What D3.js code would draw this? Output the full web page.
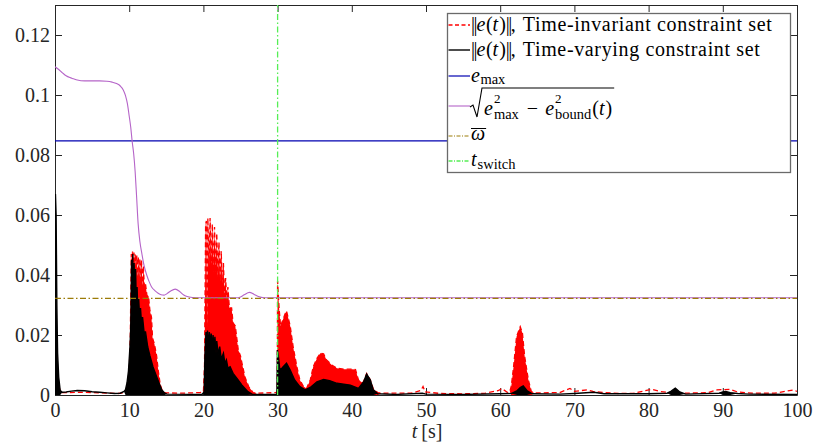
<!DOCTYPE html>
<html>
<head>
<meta charset="utf-8">
<script src="https://cdn.jsdelivr.net/npm/d3@7"></script>
<style>
  body { margin: 0; background: #fff; }
  svg { display: block; }
  svg text { font-family: 'Liberation Serif', 'Times New Roman', 'Nimbus Roman', 'DejaVu Serif', serif; }
</style>
</head>
<body>
<svg id="chart" width="814" height="445"></svg>
<script>
// ---- data -------------------------------------------------------------
const xTicks = [0, 10, 20, 30, 40, 50, 60, 70, 80, 90, 100];
const xTickLabels = ["0", "10", "20", "30", "40", "50", "60", "70", "80", "90", "100"];
const yTicks = [0, 0.02, 0.04, 0.06, 0.08, 0.1, 0.12];
const yTickLabels = ["0", "0.02", "0.04", "0.06", "0.08", "0.1", "0.12"];

// ||e(t)|| envelopes: [t, lower, upper] (lower === upper where the signal is not oscillating)
const timeInvariant = [
  [0, 0, 0.027], [0.15, 0, 0.021], [0.3, 0, 0.009], [0.5, 0, 0.003], [0.8, 0.0008, 0.0008],
  [2, 0.0008, 0.0008], [3.5, 0.0009, 0.0009], [6, 0.0007, 0.0007], [8.5, 0.0005, 0.0005], [9.6, 0.0008, 0.0008],
  [9.95, 0, 0.003], [10.15, 0, 0.02], [10.28, 0, 0.047], [10.36, 0, 0.038], [10.45, 0, 0.0478],
  [10.55, 0, 0.04], [10.64, 0, 0.0475], [10.73, 0, 0.04], [10.82, 0, 0.047], [10.92, 0, 0.039],
  [11.02, 0, 0.0465], [11.12, 0, 0.039], [11.22, 0, 0.046], [11.33, 0, 0.038], [11.44, 0, 0.0455],
  [11.55, 0, 0.037], [11.66, 0, 0.045], [11.78, 0, 0.036], [11.9, 0, 0.043], [12.05, 0, 0.036],
  [12.2, 0, 0.037], [12.4, 0, 0.033], [12.6, 0, 0.033], [12.8, 0, 0.028], [13.0, 0, 0.026],
  [13.15, 0, 0.019], [13.4, 0, 0.017], [13.7, 0, 0.013], [13.9, 0, 0.0085], [14.15, 0, 0.004],
  [14.4, 0, 0.0018], [14.7, 0, 0.0008], [15.0, 0.0007, 0.0007], [17, 0.0006, 0.0006], [19.5, 0.0008, 0.0008],
  [20.0, 0.001, 0.001], [20.15, 0, 0.01], [20.3, 0, 0.057], [20.4, 0, 0.058], [20.5, 0, 0.022],
  [20.6, 0, 0.059], [20.75, 0, 0.042], [20.9, 0, 0.059], [21.05, 0, 0.043], [21.2, 0, 0.057],
  [21.35, 0, 0.041], [21.5, 0, 0.056], [21.65, 0, 0.041], [21.8, 0, 0.054], [21.95, 0, 0.039],
  [22.1, 0, 0.051], [22.25, 0, 0.038], [22.4, 0, 0.048], [22.55, 0, 0.036], [22.7, 0, 0.044],
  [22.85, 0, 0.033], [23.0, 0, 0.039], [23.15, 0, 0.031], [23.3, 0, 0.036], [23.5, 0, 0.029],
  [23.8, 0, 0.029], [24.0, 0, 0.024], [24.3, 0, 0.023], [24.7, 0, 0.015], [25.0, 0, 0.013],
  [25.2, 0, 0.0106], [25.6, 0, 0.006], [26.1, 0, 0.0028], [26.7, 0, 0.0008], [27.2, 0.0006, 0.0006],
  [29.7, 0.0008, 0.0008], [29.95, 0, 0.001], [30.0, 0, 0.038], [30.2, 0, 0.029], [30.4, 0, 0.023],
  [30.7, 0, 0.025], [31.0, 0, 0.027], [31.2, 0, 0.028], [31.7, 0, 0.023], [32.1, 0, 0.016],
  [32.6, 0, 0.0094], [33.0, 0, 0.005], [33.5, 0, 0.0028], [33.9, 0, 0.0022], [34.4, 0, 0.005],
  [34.8, 0, 0.0094], [35.3, 0, 0.0122], [35.8, 0, 0.014], [36.2, 0, 0.0137], [36.6, 0, 0.0117],
  [37.3, 0, 0.010], [38, 0, 0.0089], [39, 0, 0.0086], [40, 0, 0.0086], [40.5, 0, 0.0085],
  [40.9, 0, 0.005], [41.5, 0, 0.004], [42.0, 0, 0.0072], [42.5, 0, 0.005], [42.9, 0, 0.002],
  [43.5, 0, 0.0008], [44, 0.0006, 0.0006], [48, 0.0006, 0.0006], [49.3, 0.0015, 0.0015], [49.6, 0.0028, 0.0028],
  [49.9, 0.001, 0.001], [52, 0.0005, 0.0005], [55, 0.0004, 0.0004], [58, 0.0006, 0.0006], [59.8, 0.0015, 0.0015],
  [60.2, 0.0022, 0.0022], [61, 0.0008, 0.0008], [61.3, 0.0012, 0.0012], [61.5, 0, 0.003], [61.8, 0, 0.0094],
  [62.2, 0, 0.0194], [62.7, 0, 0.0228], [63.0, 0, 0.0206], [63.3, 0, 0.0128], [63.8, 0, 0.005],
  [64.2, 0, 0.0011], [64.6, 0.0007, 0.0007], [68, 0.0008, 0.0008], [69.4, 0.0022, 0.0022], [70, 0.0012, 0.0012],
  [71.7, 0.0017, 0.0017], [72.5, 0.0012, 0.0012], [74, 0.0008, 0.0008], [76, 0.0005, 0.0005], [78, 0.0006, 0.0006],
  [80.4, 0.0019, 0.0019], [81.5, 0.0012, 0.0012], [83, 0.0008, 0.0008], [85, 0.0006, 0.0006], [88, 0.0008, 0.0008],
  [89.2, 0.0017, 0.0017], [91, 0.0019, 0.0019], [92, 0.001, 0.001], [94, 0.0006, 0.0006], [97, 0.0006, 0.0006],
  [99.5, 0.0017, 0.0017], [100, 0.0012, 0.0012]
];

const timeVarying = [
  [0, 0, 0.03], [0.06, 0, 0.067], [0.15, 0, 0.06], [0.25, 0, 0.03], [0.35, 0, 0.014],
  [0.5, 0, 0.006], [0.7, 0, 0.0015], [1.0, 0.0009, 0.0009], [1.5, 0.001, 0.001], [2.2, 0.0013, 0.0013],
  [3, 0.0015, 0.0015], [4, 0.0014, 0.0014], [5, 0.0011, 0.0011], [6, 0.0009, 0.0009], [7, 0.0007, 0.0007],
  [8, 0.0005, 0.0005], [8.8, 0.0006, 0.0006], [9.3, 0.0012, 0.0012], [9.5, 0, 0.0018], [9.7, 0, 0.004],
  [9.9, 0, 0.008], [10.1, 0, 0.016], [10.2, 0, 0.022], [10.25, 0, 0.030], [10.32, 0, 0.045],
  [10.4, 0, 0.031], [10.48, 0, 0.047], [10.56, 0, 0.032], [10.66, 0, 0.044], [10.76, 0, 0.031],
  [10.86, 0, 0.042], [10.96, 0, 0.030], [11.06, 0, 0.036], [11.16, 0, 0.028], [11.28, 0, 0.032],
  [11.4, 0, 0.026], [11.52, 0, 0.029], [11.66, 0, 0.024], [11.8, 0, 0.026], [12.0, 0, 0.021],
  [12.2, 0, 0.021], [12.5, 0, 0.016], [12.8, 0, 0.013], [13.2, 0, 0.0094], [13.7, 0, 0.0061],
  [14.1, 0, 0.0035], [14.4, 0, 0.0017], [14.8, 0, 0.0006], [15.1, 0.0003, 0.0003], [19.8, 0.0002, 0.0002],
  [20.1, 0, 0.001], [20.2, 0, 0.0128], [20.35, 0, 0.021], [20.45, 0, 0.015], [20.55, 0, 0.0215],
  [20.7, 0, 0.016], [20.8, 0, 0.021], [20.95, 0, 0.016], [21.05, 0, 0.0205], [21.2, 0, 0.015],
  [21.3, 0, 0.02], [21.45, 0, 0.015], [21.55, 0, 0.0194], [21.7, 0, 0.014], [21.8, 0, 0.018],
  [22.0, 0, 0.0135], [22.2, 0, 0.0161], [22.4, 0, 0.012], [22.7, 0, 0.0139], [22.9, 0, 0.0105],
  [23.1, 0, 0.0117], [23.3, 0, 0.009], [23.6, 0, 0.0094], [24.0, 0, 0.0072], [24.5, 0, 0.0056],
  [25.2, 0, 0.0033], [26.0, 0, 0.0011], [26.6, 0.0002, 0.0002], [29.9, 0.0002, 0.0002], [29.98, 0, 0.015],
  [30.1, 0, 0.013], [30.3, 0, 0.0083], [30.6, 0, 0.009], [31.2, 0, 0.0106], [31.7, 0, 0.0083],
  [32.3, 0, 0.005], [33.0, 0, 0.0028], [33.7, 0, 0.0017], [34.4, 0, 0.0025], [35.3, 0, 0.0044],
  [36.2, 0, 0.0052], [37, 0, 0.0048], [38, 0, 0.0039], [39.8, 0, 0.0033], [40.9, 0, 0.0022],
  [41.6, 0, 0.0044], [42.0, 0, 0.0070], [42.5, 0, 0.005], [42.9, 0, 0.0017], [43.5, 0.0004, 0.0004],
  [46, 0.0002, 0.0002], [49.5, 0.0006, 0.0006], [50, 0.0003, 0.0003], [55, 0.0002, 0.0002], [60, 0.0004, 0.0004],
  [61.5, 0.0005, 0.0005], [62.3, 0, 0.0015], [62.7, 0, 0.0025], [63.1, 0, 0.003], [63.6, 0, 0.0015],
  [64.3, 0.0004, 0.0004], [68, 0.0003, 0.0003], [70, 0.0005, 0.0005], [72.6, 0.0009, 0.0009], [74, 0.0004, 0.0004],
  [80, 0.0004, 0.0004], [82.5, 0.0006, 0.0006], [83.0, 0, 0.0012], [83.6, 0, 0.0023], [84.2, 0, 0.0010],
  [85, 0.0003, 0.0003], [89.5, 0.0006, 0.0006], [90.0, 0, 0.0010], [90.4, 0, 0.0012], [91, 0, 0.0008],
  [92, 0.0005, 0.0005], [93.5, 0.0003, 0.0003], [100, 0.0002, 0.0002]
];

// sqrt(e_max^2 - e_bound^2(t))
const boundCurve = [
  [0, 0.1094], [0.5, 0.1085], [1, 0.1074], [1.5, 0.1064], [2, 0.1058], [2.5, 0.1054], [3, 0.105],
  [4, 0.1047], [5, 0.1047], [6, 0.1047], [7, 0.1046], [7.7, 0.1043], [8.3, 0.1038], [8.8, 0.103],
  [9.2, 0.1017], [9.5, 0.0998], [9.75, 0.0972], [10.0, 0.093], [10.2, 0.0894], [10.4, 0.0845],
  [10.6, 0.0805], [10.8, 0.0745], [11.0, 0.066], [11.2, 0.0572], [11.45, 0.051], [11.7, 0.0472],
  [12.0, 0.0432], [12.36, 0.040], [12.7, 0.0377], [13.0, 0.0361], [13.5, 0.0347], [13.9, 0.0339],
  [14.3, 0.0334], [14.7, 0.0333], [15.1, 0.0338], [15.6, 0.0347], [16.2, 0.0353], [16.8, 0.0345],
  [17.3, 0.0334], [17.8, 0.0328], [18.5, 0.0325], [19.5, 0.0324], [24.5, 0.0324], [25.0, 0.0327],
  [25.5, 0.0334], [26.2, 0.0342], [26.8, 0.0336], [27.4, 0.0328], [28.2, 0.0324], [100, 0.0324]
];

const eMax = 0.0847;
const omegaBar = 0.0322;
const tSwitch = 30;

// ---- layout -----------------------------------------------------------
const FONT = "'Liberation Serif', 'Times New Roman', 'Nimbus Roman', 'DejaVu Serif', serif";
const svg = d3.select("#chart");
const axisColor = "#262626";
const x = d3.scaleLinear().domain([0, 100]).range([55, 797]);
const y = d3.scaleLinear().domain([0, 0.13]).range([395, 5]);

svg.append("defs").append("clipPath").attr("id", "plotClip")
  .append("rect")
  .attr("x", x(0)).attr("y", y(0.13))
  .attr("width", x(100) - x(0)).attr("height", y(0) - y(0.13));

// axes (box with inward ticks on all four sides)
function styleAxis(g) {
  g.attr("font-family", null);
  g.selectAll(".domain").attr("stroke", axisColor).attr("stroke-width", 1);
  g.selectAll(".tick line").attr("stroke", axisColor).attr("stroke-width", 1);
  g.selectAll(".tick text").attr("fill", axisColor).attr("font-size", 20)
    .style("font-family", FONT);
}
svg.append("g").attr("transform", `translate(0,${y(0)})`)
  .call(d3.axisBottom(x).tickValues(xTicks).tickSize(-7).tickSizeOuter(0).tickPadding(8)
    .tickFormat((d, i) => xTickLabels[i]))
  .call(styleAxis);
svg.append("g").attr("transform", `translate(0,${y(0.13)})`)
  .call(d3.axisTop(x).tickValues(xTicks).tickSize(-7).tickSizeOuter(0).tickFormat(""))
  .call(styleAxis);
svg.append("g").attr("transform", `translate(${x(0)},0)`)
  .call(d3.axisLeft(y).tickValues(yTicks).tickSize(-7).tickSizeOuter(0).tickPadding(5)
    .tickFormat((d, i) => yTickLabels[i]))
  .call(styleAxis);
svg.append("g").attr("transform", `translate(${x(100)},0)`)
  .call(d3.axisRight(y).tickValues(yTicks).tickSize(-7).tickSizeOuter(0).tickFormat(""))
  .call(styleAxis);

// x-axis label
const xl = svg.append("text").attr("x", x(50) + 1).attr("y", 438)
  .attr("text-anchor", "middle").attr("font-size", 20).attr("fill", axisColor)
  .style("font-family", FONT);
xl.append("tspan").attr("font-style", "italic").text("t");
xl.append("tspan").text("\u2009[s]");

// ---- plotted data -----------------------------------------------------
const plot = svg.append("g").attr("clip-path", "url(#plotClip)");
const band = d3.area().x(d => x(d[0])).y0(d => y(d[1])).y1(d => y(d[2]));
const upperLine = d3.line().x(d => x(d[0])).y(d => y(d[2]));

plot.append("path").datum(timeInvariant).attr("d", band).attr("fill", "#ff0000");
plot.append("path").datum(timeInvariant).attr("d", upperLine)
  .attr("fill", "none").attr("stroke", "#ff0000").attr("stroke-width", 1.3)
  .attr("stroke-dasharray", "5,3");

plot.append("path").datum(timeVarying).attr("d", band).attr("fill", "#000");
plot.append("path").datum(timeVarying).attr("d", upperLine)
  .attr("fill", "none").attr("stroke", "#000").attr("stroke-width", 1.4);

const colors = { eMax: "#0000b0", bound: "#b564c8", omega: "#9c7c08", tSwitch: "#55ee55" };

plot.append("line")
  .attr("x1", x(0)).attr("x2", x(100)).attr("y1", y(eMax)).attr("y2", y(eMax))
  .attr("stroke", colors.eMax).attr("stroke-width", 1.1);

plot.append("path").datum(boundCurve)
  .attr("d", d3.line().x(d => x(d[0])).y(d => y(d[1])).curve(d3.curveMonotoneX))
  .attr("fill", "none").attr("stroke", colors.bound).attr("stroke-width", 1.1);

plot.append("line")
  .attr("x1", x(0)).attr("x2", x(100)).attr("y1", y(omegaBar)).attr("y2", y(omegaBar))
  .attr("stroke", colors.omega).attr("stroke-width", 1.2).attr("stroke-dasharray", "6,2.5,1.5,2.5");

plot.append("line")
  .attr("x1", x(tSwitch)).attr("x2", x(tSwitch)).attr("y1", y(0)).attr("y2", y(0.13))
  .attr("stroke", colors.tSwitch).attr("stroke-width", 1.3).attr("stroke-dasharray", "6,2.5,1.5,2.5");

// ---- legend -----------------------------------------------------------
const legend = svg.append("g");
legend.append("rect")
  .attr("x", 447.5).attr("y", 13.5).attr("width", 343).attr("height", 159)
  .attr("fill", "#fff").attr("stroke", "#6a6a6a").attr("stroke-width", 1.3);

const textX = 471;
const baseSize = 20;

function addText(g, x0, baseline, s, opts = {}) {
  const t = g.append("text").attr("x", x0).attr("y", baseline)
    .attr("font-size", opts.fs || baseSize).attr("fill", "#000")
    .attr("font-style", opts.it ? "italic" : "normal")
    .style("font-family", FONT)
    .text(s);
  if (opts.len) t.attr("textLength", opts.len).attr("lengthAdjust", "spacing");
  if (opts.ls != null) t.attr("letter-spacing", opts.ls);
  return t;
}

// sequential run of text pieces; returns the x where the run ends
function run(g, x0, baseline, pieces) {
  let cx = x0;
  pieces.forEach(p => {
    const t = addText(g, cx, baseline + (p.dy || 0), p.s, p);
    cx += (p.len || t.node().getComputedTextLength()) + (p.pad || 0);
  });
  return cx;
}

function legendLine(yy, color, width, dash) {
  legend.append("line").attr("x1", 448.5).attr("x2", 470).attr("y1", yy).attr("y2", yy)
    .attr("stroke", color).attr("stroke-width", width).attr("stroke-dasharray", dash || null);
}

// rows 1 and 2: ||e(t)||
function normPrefix(baseline) {
  return run(legend, textX, baseline, [
    { s: "||", ls: -1.5, pad: 0.5 }, { s: "e", it: 1, pad: 0.5 }, { s: "(" }, { s: "t", it: 1, pad: 1 },
    { s: ")" }, { s: "||", ls: -1.5 }, { s: ",", pad: 7 }
  ]);
}
legendLine(25, "#ff0000", 1.3, "4,2.5");
run(legend, normPrefix(31), 31, [{ s: "Time-invariant constraint set", len: 249 }]);
legendLine(50, "#000", 1.4);
run(legend, normPrefix(56), 56, [{ s: "Time-varying constraint set", len: 237 }]);

// row 3: e_max
legendLine(76, colors.eMax, 1.2);
run(legend, textX, 81.5, [{ s: "e", it: 1, pad: 0.5 }, { s: "max", fs: 14.5, dy: 2.5 }]);

// row 4: sqrt(e_max^2 - e_bound^2(t))
function squaredWithSub(x0, baseline, sub) {
  const ee = addText(legend, x0, baseline, "e", { it: 1 });
  const sx = x0 + ee.node().getComputedTextLength() + 1;
  const sup = addText(legend, sx, baseline - 12, "2", { fs: 13 });
  const sb = addText(legend, sx, baseline + 4, sub, { fs: 14.5 });
  return sx + Math.max(sup.node().getComputedTextLength(), sb.node().getComputedTextLength());
}
legendLine(106, colors.bound, 1.1);
const rb = 115;
let ex = squaredWithSub(textX + 13, rb, "max");
ex = run(legend, ex + 8, rb, [{ s: "\u2212" }]) + 7;
ex = squaredWithSub(ex, rb, "bound");
ex = run(legend, ex + 1, rb, [{ s: "(" }, { s: "t", it: 1, pad: 1 }, { s: ")" }]);
legend.append("path")
  .attr("d", `M${textX - 1},${rb - 8} L${textX + 2},${rb - 10} L${textX + 6},${rb + 2} L${textX + 11},${rb - 27} L${ex + 2},${rb - 27}`)
  .attr("fill", "none").attr("stroke", "#000").attr("stroke-width", 1.1);

// row 5: omega bar
legendLine(136, colors.omega, 1.2, "4,1.5,1,1.5");
const wEnd = run(legend, textX, 140, [{ s: "\u03c9", it: 1 }]);
legend.append("line").attr("x1", textX).attr("x2", wEnd + 1).attr("y1", 128.5).attr("y2", 128.5)
  .attr("stroke", "#000").attr("stroke-width", 1);

// row 6: t_switch
legendLine(161, colors.tSwitch, 1.3, "4,1.5,1,1.5");
run(legend, textX, 166, [{ s: "t", it: 1, pad: 1 }, { s: "switch", fs: 14.5, dy: 2.5 }]);
</script>
</body>
</html>
